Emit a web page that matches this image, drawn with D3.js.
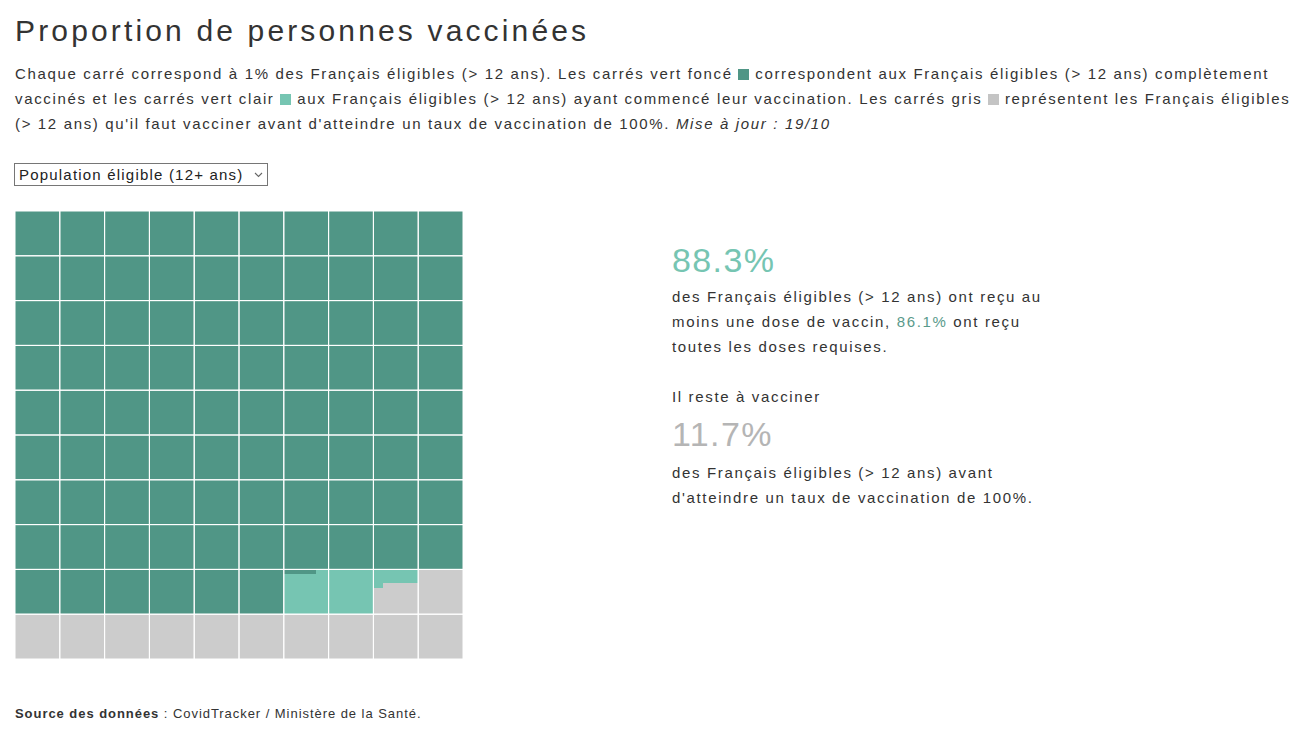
<!DOCTYPE html>
<html lang="fr">
<head>
<meta charset="utf-8">
<script src="https://cdn.jsdelivr.net/npm/d3@7"></script>
<style>
  body { margin: 0; font-family: "Liberation Sans", Arial, sans-serif; color: #333; background: #fff; }
  #page { position: relative; width: 1315px; height: 740px; }
  h1 { position: absolute; left: 15px; top: 13px; margin: 0; font-size: 30px; letter-spacing: 3.15px; font-weight: normal; line-height: 36px; color: #333; }
  .intro { position: absolute; left: 15px; top: 61px; width: 1290px; margin: 0; font-size: 15px; letter-spacing: 1.65px; line-height: 25px; }
  .sq { display: inline-block; width: 11px; height: 11px; vertical-align: -1px; }
  select {
    position: absolute; left: 14px; top: 163px; width: 254px; height: 23px;
    font-size: 15px; letter-spacing: 1.2px; font-family: "Liberation Sans", Arial, sans-serif; color: #222;
    -webkit-appearance: none; appearance: none; border: 1px solid #767676; border-radius: 0;
    padding: 0 0 0 4px; background-color: #fff;
    background-image: url("data:image/svg+xml,%3Csvg xmlns='http://www.w3.org/2000/svg' width='9' height='6'%3E%3Cpath d='M1 1l3.5 3.5L8 1' fill='none' stroke='%23666' stroke-width='1.1'/%3E%3C/svg%3E");
    background-repeat: no-repeat; background-position: right 4px center;
  }
  #waffle { position: absolute; left: 15px; top: 211px; }
  .side { position: absolute; left: 672px; top: 236px; width: 390px; font-size: 15px; letter-spacing: 1.65px; line-height: 25px; }
  .side p { margin: 0; }
  .big { font-size: 34px; letter-spacing: 1.4px; line-height: 48px; }
  .source { position: absolute; left: 15px; top: 706px; font-size: 13px; letter-spacing: 0.95px; }
</style>
</head>
<body>
<div id="page"></div>
<script>
const categories = ['Complètement vaccinés', 'Au moins une dose', 'Restant à vacciner'];
const fullyVaccinated = 86.07;
const atLeastOneDose = 88.32;
const colors = ['#509686', '#76c5b2', '#cccccc'];
const legendGrey = '#c4c4c4';
const selectOptions = ['Population éligible (12+ ans)', 'Population totale'];

const remaining = 100 - atLeastOneDose;
const fmt = v => v.toFixed(1) + '%';

const page = d3.select('#page');

page.append('h1').text('Proportion de personnes vaccinées');

const intro = page.append('p').attr('class', 'intro');
intro.append('span').text('Chaque carré correspond à 1% des Français éligibles (> 12 ans). Les carrés vert foncé ');
intro.append('span').attr('class', 'sq').style('background', colors[0]);
intro.append('span').text(' correspondent aux Français éligibles (> 12 ans) complètement vaccinés et les carrés vert clair ');
intro.append('span').attr('class', 'sq').style('background', colors[1]);
intro.append('span').text(' aux Français éligibles (> 12 ans) ayant commencé leur vaccination. Les carrés gris ');
intro.append('span').attr('class', 'sq').style('background', legendGrey);
intro.append('span').text(" représentent les Français éligibles (> 12 ans) qu'il faut vacciner avant d'atteindre un taux de vaccination de 100%. ");
intro.append('i').text('Mise à jour : 19/10');

page.append('select')
  .selectAll('option')
  .data(selectOptions)
  .enter()
  .append('option')
    .text(d => d);

// waffle: 10x10 cells, each cell split into 10x10 sub squares
const size = 448;
const svg = page.append('svg')
  .attr('id', 'waffle')
  .attr('width', size)
  .attr('height', size);

const col = d3.scaleBand().domain(d3.range(10)).range([0, size]);
const row = d3.scaleBand().domain(d3.range(10)).range([0, size]);
const sub = d3.scaleBand().domain(d3.range(10)).range([0, col.bandwidth()]);

// thresholds in hundredths of a percent
const limits = [Math.round(fullyVaccinated * 100), Math.round(atLeastOneDose * 100), 10000];
const colorOf = i => colors[limits.findIndex(l => i < l)];

const cells = d3.range(100);
const g = svg.append('g');

cells.forEach(c => {
  const x0 = col(c % 10), y0 = row(Math.floor(c / 10));
  const first = colorOf(c * 100), last = colorOf(c * 100 + 99);
  // whole cell in the last colour, then the sub squares that differ on top
  g.append('rect')
    .attr('x', x0).attr('y', y0)
    .attr('width', col.bandwidth()).attr('height', row.bandwidth())
    .attr('fill', last);
  if (first !== last) {
    g.selectAll(null)
      .data(d3.range(100).filter(s => colorOf(c * 100 + s) !== last))
      .enter()
      .append('rect')
        .attr('x', s => x0 + sub(s % 10))
        .attr('y', s => y0 + sub(Math.floor(s / 10)))
        .attr('width', sub.bandwidth() + 0.5)
        .attr('height', sub.bandwidth() + 0.5)
        .attr('shape-rendering', 'crispEdges')
        .attr('fill', s => colorOf(c * 100 + s));
  }
});

// white grid between cells
svg.append('g')
  .selectAll('rect')
  .data(cells)
  .enter()
  .append('rect')
    .attr('x', c => col(c % 10))
    .attr('y', c => row(Math.floor(c / 10)))
    .attr('width', col.bandwidth())
    .attr('height', row.bandwidth())
    .attr('fill', 'none')
    .attr('stroke', '#fff')
    .attr('stroke-width', 1);

// side text
const side = page.append('div').attr('class', 'side');
side.append('p').attr('class', 'big').style('color', colors[1]).text(fmt(atLeastOneDose));
const p1 = side.append('p');
p1.append('span').text('des Français éligibles (> 12 ans) ont reçu au moins une dose de vaccin, ');
p1.append('span').style('color', '#5a9a8b').text(fmt(fullyVaccinated));
p1.append('span').text(' ont reçu toutes les doses requises.');
side.append('p').style('margin-top', '25px').text('Il reste à vacciner');
side.append('p').attr('class', 'big').style('color', '#b5b5b5').style('line-height', '51px').text(fmt(remaining));
side.append('p').text("des Français éligibles (> 12 ans) avant d'atteindre un taux de vaccination de 100%.");

const src = page.append('div').attr('class', 'source');
src.append('b').text('Source des données');
src.append('span').text(' : CovidTracker / Ministère de la Santé.');
</script>
</body>
</html>
